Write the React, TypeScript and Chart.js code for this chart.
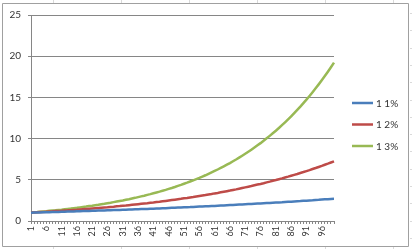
import React, { useEffect, useRef } from "react";
import { Chart, registerables } from "chart.js";

Chart.register(...registerables);

const categories: string[] = [
  "1","2","3","4","5","6","7","8","9","10",
  "11","12","13","14","15","16","17","18","19","20",
  "21","22","23","24","25","26","27","28","29","30",
  "31","32","33","34","35","36","37","38","39","40",
  "41","42","43","44","45","46","47","48","49","50",
  "51","52","53","54","55","56","57","58","59","60",
  "61","62","63","64","65","66","67","68","69","70",
  "71","72","73","74","75","76","77","78","79","80",
  "81","82","83","84","85","86","87","88","89","90",
  "91","92","93","94","95","96","97","98","99","100",
];

const series1: number[] = [
  1.01,1.02,1.03,1.04,1.05,1.06,1.07,1.08,1.09,1.10,
  1.12,1.13,1.14,1.15,1.16,1.17,1.18,1.20,1.21,1.22,
  1.23,1.24,1.26,1.27,1.28,1.30,1.31,1.32,1.33,1.35,
  1.36,1.37,1.39,1.40,1.42,1.43,1.45,1.46,1.47,1.49,
  1.50,1.52,1.53,1.55,1.56,1.58,1.60,1.61,1.63,1.64,
  1.66,1.68,1.69,1.71,1.73,1.75,1.76,1.78,1.80,1.82,
  1.83,1.85,1.87,1.89,1.91,1.93,1.95,1.97,1.99,2.01,
  2.03,2.05,2.07,2.09,2.11,2.13,2.15,2.17,2.19,2.22,
  2.24,2.26,2.28,2.31,2.33,2.35,2.38,2.40,2.42,2.45,
  2.47,2.50,2.52,2.55,2.57,2.60,2.63,2.65,2.68,2.70,
];

const series2: number[] = [
  1.02,1.04,1.06,1.08,1.10,1.13,1.15,1.17,1.20,1.22,
  1.24,1.27,1.29,1.32,1.35,1.37,1.40,1.43,1.46,1.49,
  1.52,1.55,1.58,1.61,1.64,1.67,1.71,1.74,1.78,1.81,
  1.85,1.88,1.92,1.96,2.00,2.04,2.08,2.12,2.16,2.21,
  2.25,2.30,2.34,2.39,2.44,2.49,2.54,2.59,2.64,2.69,
  2.75,2.80,2.86,2.91,2.97,3.03,3.09,3.15,3.22,3.28,
  3.35,3.41,3.48,3.55,3.62,3.69,3.77,3.84,3.92,4.00,
  4.08,4.16,4.24,4.33,4.42,4.50,4.59,4.69,4.78,4.88,
  4.97,5.07,5.17,5.28,5.38,5.49,5.60,5.71,5.83,5.94,
  6.06,6.18,6.31,6.43,6.56,6.69,6.83,6.96,7.10,7.24,
];

const series3: number[] = [
  1.03,1.06,1.09,1.13,1.16,1.19,1.23,1.27,1.30,1.34,
  1.38,1.43,1.47,1.51,1.56,1.60,1.65,1.70,1.75,1.81,
  1.86,1.92,1.97,2.03,2.09,2.16,2.22,2.29,2.36,2.43,
  2.50,2.58,2.65,2.73,2.81,2.90,2.99,3.07,3.17,3.26,
  3.36,3.46,3.56,3.67,3.78,3.90,4.01,4.13,4.26,4.38,
  4.52,4.65,4.79,4.93,5.08,5.23,5.39,5.55,5.72,5.89,
  6.07,6.25,6.44,6.63,6.83,7.03,7.25,7.46,7.69,7.92,
  8.16,8.40,8.65,8.91,9.18,9.45,9.74,10.03,10.33,10.64,
  10.96,11.29,11.63,11.98,12.34,12.71,13.09,13.48,13.88,14.30,
  14.73,15.17,15.63,16.10,16.58,17.08,17.59,18.12,18.66,19.22,
];

const seriesNames: string[] = ["1 1%", "1 2%", "1 3%"];
const seriesColors: string[] = ["#4A7EBB", "#BE4B48", "#98B954"];

const FONT = "Lato, 'Open Sans', sans-serif";

const framePlugin = {
  id: "frame",
  beforeDraw(chart: any) {
    const ctx = chart.ctx;
    const w = chart.width;
    const h = chart.height;
    ctx.save();
    ctx.fillStyle = "#ffffff";
    ctx.fillRect(0, 0, w, h);
    ctx.strokeStyle = "#dadada";
    ctx.lineWidth = 1;
    [53, 121, 189, 257, 325, 393].forEach((x) => {
      ctx.beginPath();
      ctx.moveTo(x + 0.5, 0);
      ctx.lineTo(x + 0.5, 3);
      ctx.moveTo(x + 0.5, 247);
      ctx.lineTo(x + 0.5, h);
      ctx.stroke();
    });
    for (let y = 13; y < h; y += 17.3) {
      ctx.beginPath();
      ctx.moveTo(410, Math.round(y) + 0.5);
      ctx.lineTo(w, Math.round(y) + 0.5);
      ctx.stroke();
    }
    ctx.strokeStyle = "#a0a0a0";
    ctx.beginPath();
    ctx.rect(2.5, 3.5, 406, 243);
    ctx.stroke();
    ctx.restore();
  },
};

// Legend drawn from the datasets' own labels and colours, placed like Excel's right legend
const legendPlugin = {
  id: "excelLegend",
  afterDraw(chart: any) {
    const ctx = chart.ctx;
    ctx.save();
    ctx.font = `10px ${FONT}`;
    ctx.textBaseline = "middle";
    ctx.textAlign = "left";
    chart.data.datasets.forEach((ds: any, i: number) => {
      const y = 103 + i * 21.5;
      ctx.strokeStyle = ds.borderColor;
      ctx.lineWidth = 2.5;
      ctx.beginPath();
      ctx.moveTo(352, y);
      ctx.lineTo(373, y);
      ctx.stroke();
      ctx.fillStyle = "#333333";
      ctx.fillText(ds.label, 376, y + 0.5);
    });
    ctx.restore();
  },
};

export default function App() {
  const ref = useRef<HTMLCanvasElement | null>(null);

  useEffect(() => {
    document.body.style.margin = "0";
    const canvas = ref.current;
    if (!canvas) return;
    const chart = new Chart(canvas, {
      type: "line",
      data: {
        labels: categories,
        datasets: [series1, series2, series3].map((d, i) => ({
          label: seriesNames[i],
          data: d,
          borderColor: seriesColors[i],
          backgroundColor: seriesColors[i],
          borderWidth: 2.5,
          pointRadius: 0,
          tension: 0,
          fill: false,
        })),
      },
      options: {
        responsive: false,
        animation: false,
        layout: { padding: { left: 0, right: 78, top: 15, bottom: 0 } },
        plugins: {
          tooltip: { enabled: false },
          legend: { display: false },
        },
        scales: {
          x: {
            type: "category",
            offset: false,
            afterFit: (scale: any) => {
              scale.height = 28;
            },
            grid: {
              drawOnChartArea: false,
              drawTicks: true,
              tickLength: 3,
              color: "#868686",
            },
            border: { display: true, color: "#868686" },
            ticks: {
              autoSkip: false,
              minRotation: 90,
              maxRotation: 90,
              padding: 2,
              color: "#333333",
              font: { family: FONT, size: 9 },
              callback: (_v: any, idx: number) => (idx % 5 === 0 ? categories[idx] : ""),
            },
          },
          y: {
            min: 0,
            max: 25,
            afterFit: (scale: any) => {
              scale.width = 31;
            },
            grid: {
              color: "#868686",
              drawTicks: true,
              tickLength: 3,
            },
            border: { display: true, color: "#868686" },
            ticks: {
              stepSize: 5,
              padding: 7,
              color: "#333333",
              font: { family: FONT, size: 10 },
            },
          },
        },
      },
      plugins: [framePlugin, legendPlugin],
    });
    return () => chart.destroy();
  }, []);

  return (
    <div style={{ position: "fixed", left: 0, top: 0, width: 412, height: 249 }}>
      <canvas ref={ref} width={412} height={249} style={{ display: "block", width: 412, height: 249 }} />
    </div>
  );
}
